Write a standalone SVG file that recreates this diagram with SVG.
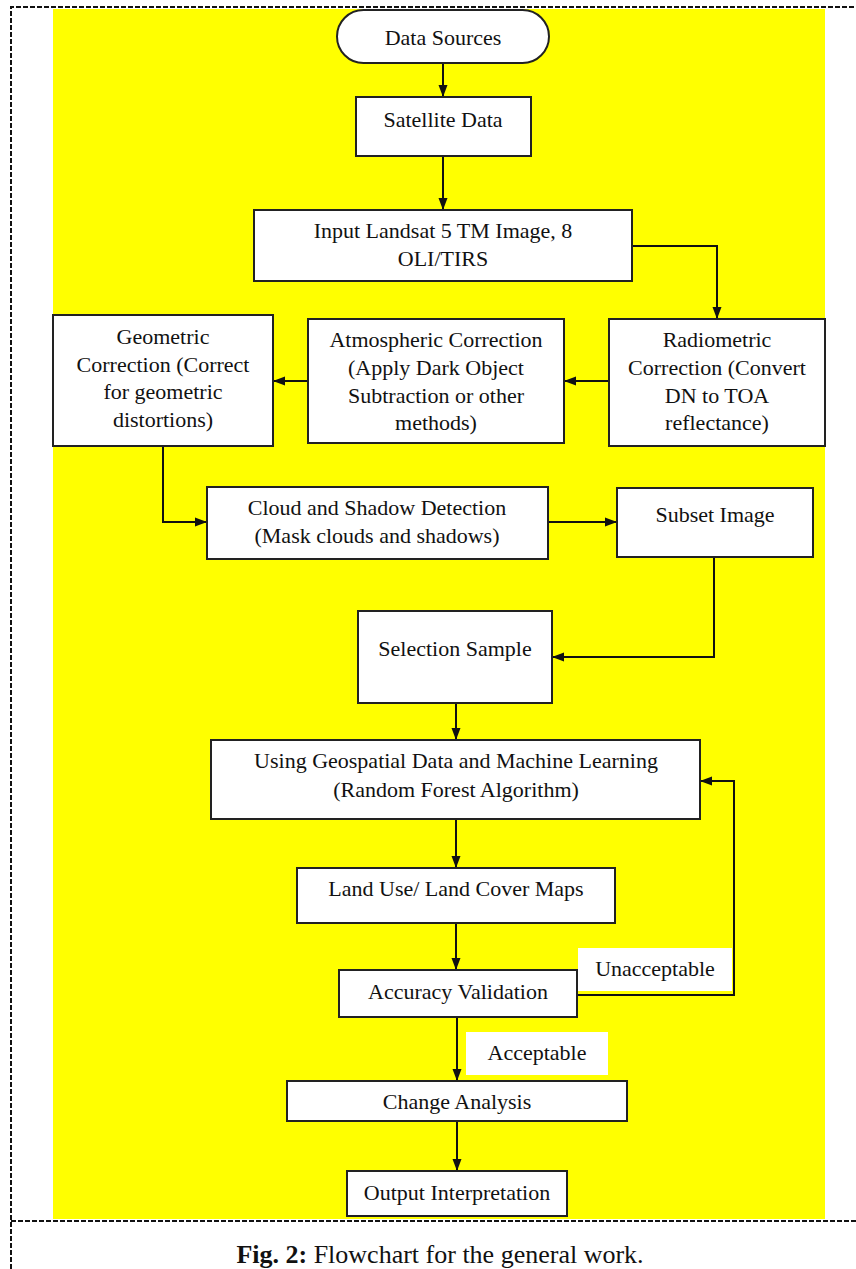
<svg xmlns="http://www.w3.org/2000/svg" width="856" height="1269" viewBox="0 0 856 1269">
<style>
.box{fill:#fff;stroke:#222;stroke-width:2}
.t{font-family:"Liberation Serif","Times New Roman",serif;font-size:22px;fill:#111;text-anchor:middle}
.c{fill:none;stroke:#111;stroke-width:2}
.lbl{fill:#fff;stroke:none}
.dash{fill:none;stroke:#111;stroke-width:2;stroke-dasharray:5 2}
</style>
<defs>
<marker id="ah" markerUnits="userSpaceOnUse" markerWidth="12" markerHeight="12" viewBox="0 0 12 12" refX="12" refY="6" orient="auto">
<path d="M0,1.5 L12,6 L0,10.5 Z" fill="#111"/>
</marker>
</defs>
<rect x="0" y="0" width="856" height="1269" fill="#fff"/>
<rect x="53" y="9" width="772" height="1210" fill="#ffff00"/>
<path class="dash" d="M11,1269 V7 H856"/>
<path class="dash" d="M11,1221 H856"/>

<g id="connectors">
<path class="c" marker-end="url(#ah)" d="M443,63 V97"/>
<path class="c" marker-end="url(#ah)" d="M443,156 V210"/>
<path class="c" marker-end="url(#ah)" d="M632,246 H717 V319"/>
<path class="c" marker-end="url(#ah)" d="M609,381 H564"/>
<path class="c" marker-end="url(#ah)" d="M308,381 H273"/>
<path class="c" marker-end="url(#ah)" d="M163,446 V522 H207"/>
<path class="c" marker-end="url(#ah)" d="M548,522 H617"/>
<path class="c" marker-end="url(#ah)" d="M714,557 V657 H552"/>
<path class="c" marker-end="url(#ah)" d="M456,703 V740"/>
<path class="c" marker-end="url(#ah)" d="M456,819 V868"/>
<path class="c" marker-end="url(#ah)" d="M456,923 V970"/>
<path class="c" marker-end="url(#ah)" d="M577,995 H734 V781 H700"/>
<path class="c" marker-end="url(#ah)" d="M457,1017 V1081"/>
<path class="c" marker-end="url(#ah)" d="M457,1121 V1171"/>
</g>

<g id="data-sources">
<rect class="box" x="337" y="10" width="212" height="53" rx="26.5" ry="26.5"/>
<text class="t" x="443" y="45">Data Sources</text>
</g>
<g id="satellite-data">
<rect class="box" x="356" y="97" width="175" height="59"/>
<text class="t" x="443" y="127">Satellite Data</text>
</g>
<g id="input-landsat">
<rect class="box" x="254" y="210" width="378" height="71"/>
<text class="t" x="443" y="238">Input Landsat 5 TM Image, 8</text>
<text class="t" x="443" y="266">OLI/TIRS</text>
</g>
<g id="radiometric">
<rect class="box" x="609" y="319" width="216" height="127"/>
<text class="t" x="717" y="347">Radiometric</text>
<text class="t" x="717" y="375">Correction (Convert</text>
<text class="t" x="717" y="403">DN to TOA</text>
<text class="t" x="717" y="430">reflectance)</text>
</g>
<g id="atmospheric">
<rect class="box" x="308" y="319" width="256" height="124"/>
<text class="t" x="436" y="347">Atmospheric Correction</text>
<text class="t" x="436" y="375">(Apply Dark Object</text>
<text class="t" x="436" y="403">Subtraction or other</text>
<text class="t" x="436" y="430">methods)</text>
</g>
<g id="geometric">
<rect class="box" x="53" y="315" width="220" height="131"/>
<text class="t" x="163" y="344">Geometric</text>
<text class="t" x="163" y="372">Correction (Correct</text>
<text class="t" x="163" y="399">for geometric</text>
<text class="t" x="163" y="427">distortions)</text>
</g>
<g id="cloud-shadow">
<rect class="box" x="207" y="487" width="341" height="72"/>
<text class="t" x="377" y="515">Cloud and Shadow Detection</text>
<text class="t" x="377" y="543">(Mask clouds and shadows)</text>
</g>
<g id="subset-image">
<rect class="box" x="617" y="488" width="196" height="69"/>
<text class="t" x="715" y="522">Subset Image</text>
</g>
<g id="selection-sample">
<rect class="box" x="358" y="611" width="194" height="92"/>
<text class="t" x="455" y="656">Selection Sample</text>
</g>
<g id="geospatial-ml">
<rect class="box" x="211" y="740" width="489" height="79"/>
<text class="t" x="456" y="768">Using Geospatial Data and Machine Learning</text>
<text class="t" x="456" y="797">(Random Forest Algorithm)</text>
</g>
<g id="lulc-maps">
<rect class="box" x="297" y="868" width="318" height="55"/>
<text class="t" x="456" y="896">Land Use/ Land Cover Maps</text>
</g>
<g id="accuracy-validation">
<rect class="box" x="339" y="970" width="238" height="47"/>
<text class="t" x="458" y="999">Accuracy Validation</text>
</g>
<g id="label-unacceptable">
<rect class="lbl" x="578" y="948" width="154" height="43"/>
<text class="t" x="655" y="976">Unacceptable</text>
</g>
<g id="label-acceptable">
<rect class="lbl" x="466" y="1032" width="142" height="43" stroke="#f3f0b0" stroke-width="1"/>
<text class="t" x="537" y="1060">Acceptable</text>
</g>
<g id="change-analysis">
<rect class="box" x="287" y="1081" width="340" height="40"/>
<text class="t" x="457" y="1109">Change Analysis</text>
</g>
<g id="output-interpretation">
<rect class="box" x="347" y="1171" width="220" height="45"/>
<text class="t" x="457" y="1200">Output Interpretation</text>
</g>
<text x="440" y="1263" font-family="Liberation Serif, Times New Roman, serif" font-size="26" fill="#111" text-anchor="middle"><tspan font-weight="bold">Fig. 2:</tspan> Flowchart for the general work.</text>
</svg>
